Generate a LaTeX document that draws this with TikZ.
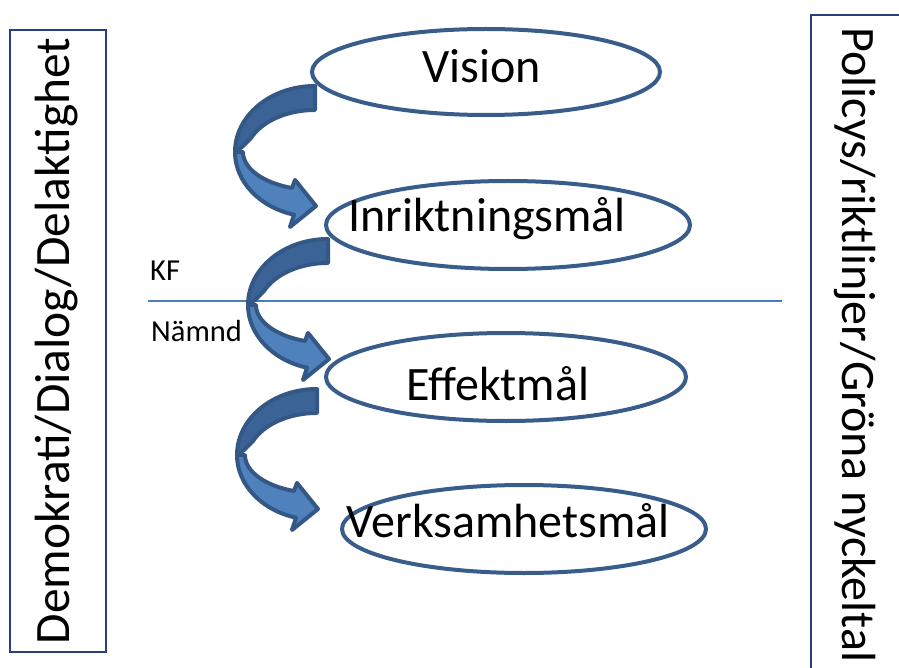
\documentclass[tikz,border=0pt]{standalone}
\usepackage{fontspec}
\setmainfont{Carlito}
\usetikzlibrary{shapes.geometric}
\definecolor{ellblue}{RGB}{56,93,138}
\definecolor{arrline}{RGB}{52,88,134}
\definecolor{arrdark}{RGB}{60,99,150}
\definecolor{arrlight}{RGB}{79,129,189}
\definecolor{sepline}{RGB}{74,126,187}
\definecolor{boxblue}{RGB}{40,62,122}
\begin{document}
\begin{tikzpicture}[x=1pt,y=-1pt,
  oval/.style={ellipse,draw=ellblue,line width=4pt,inner sep=0pt},
  bigtext/.style={font=\fontsize{48}{57}\selectfont,inner sep=0pt,anchor=base},
  smalltext/.style={font=\fontsize{30.5}{36}\selectfont,inner sep=0pt,anchor=base west},
  sidebox/.style={rectangle,draw=boxblue,line width=1.8pt,inner sep=0pt},
  sidetext/.style={font=\fontsize{48}{58}\selectfont,inner sep=0pt},
  arrowband/.style={draw=arrline,line width=4pt,line join=round},
  pics/curvarrow/.style={code={
    \filldraw[arrowband,fill=arrdark] (0,-1)
      arc[start angle=270,end angle=180,x radius=80,y radius=66]
      -- (-73,60) -- (-64,51)
      arc[start angle=203.8,end angle=270,x radius=70,y radius=47] -- cycle;
    \filldraw[arrowband,fill=arrlight] (-80,65)
      arc[start angle=180,end angle=105.2,x radius=80,y radius=65]
      -- (-25,140) -- (1,119) -- (-20,93) -- (-23,101)
      arc[start angle=108.6,end angle=180,x radius=72,y radius=38] -- cycle;
  }}]
\useasboundingbox (0,0) rectangle (899,668);
\clip (0,0) rectangle (899,668);
\fill[white] (0,0) rectangle (899,668);

% side boxes
\node[sidebox,minimum width=96pt,minimum height=622pt] (lbox) at (58,341) {};
\node[sidetext,rotate=90,font=\fontsize{49.5}{59}\selectfont] (ltext) at (57,341) {Demokrati/Dialog/Delaktighet};
\node[sidebox,minimum width=110pt,minimum height=680pt,anchor=north west] (rbox) at (810,14) {};
\node[sidetext,rotate=-90] (rtext) at (855,345) {Policys/riktlinjer/Gröna nyckeltal};

% separator line
\coordinate (sepL) at (148,301);
\coordinate (sepR) at (782,301);
\draw[sepline,line width=2pt] (sepL) -- (sepR);
\node[smalltext] (kf) at (150,280) {KF};
\node[smalltext] (namnd) at (151,341) {Nämnd};

% ellipses
\node[oval,minimum width=348pt,minimum height=86pt] (vision) at (486,72) {};
\node[oval,minimum width=364pt,minimum height=88pt] (inrikt) at (508,225) {};
\node[oval,minimum width=360pt,minimum height=88pt] (effekt) at (506,377) {};
\node[oval,minimum width=364pt,minimum height=88pt] (verks) at (524,529) {};

\node[bigtext] (tvision) at (482,83) {Vision};
\node[bigtext] (tinrikt) at (487,232) {Inriktningsmål};
\node[bigtext] (teffekt) at (498,400) {Effektmål};
\node[bigtext] (tverks) at (508,537) {Verksamhetsmål};

% curved arrows
\pic (arrA) at (315,87) {curvarrow};
\pic (arrB) at (328,240) {curvarrow};
\pic (arrC) at (317,390) {curvarrow};
\end{tikzpicture}
\end{document}
